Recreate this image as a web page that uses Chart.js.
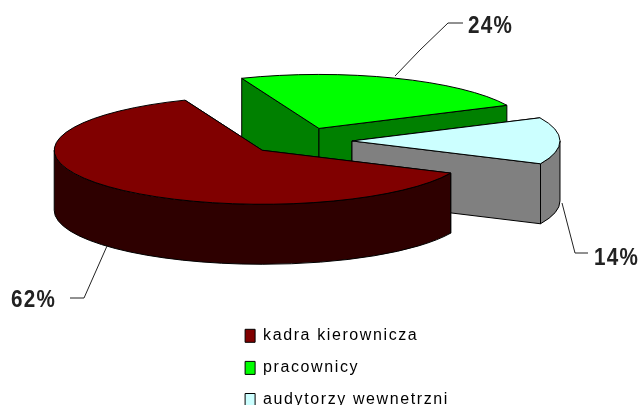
<!DOCTYPE html>
<html><head><meta charset="utf-8">
<script src="https://cdn.jsdelivr.net/npm/chart.js@4"></script>
<style>html,body{margin:0;padding:0;background:#fff;overflow:hidden}canvas{display:block}</style>
</head><body><canvas id="c" width="639" height="405"></canvas>
<script>
const categories = ['kadra kierownicza', 'pracownicy', 'audytorzy wewnetrzni'];
const shares = [62, 24, 14];
const topColors = ['#800000', '#00ff00', '#ccffff'];
const sideColors = ['#2e0000', '#008000', '#808080'];
const paintOrder = [1, 2, 0];
const leaders = [
  [[107,246],[84,298],[70,298]],
  [[395,76],[420,50],[448,23],[463,23]],
  [[562,203],[575,253],[588,253]]
];
const labelSpots = [[11,307],[468,33],[594,265]];

const RADIUS = 150, EXPLODE = 37.5;
const VIEW = {x: 300, y: 141, sx: 208 / RADIUS, sy: 54 / RADIUS, depth: 60};

const pie3d = {
  id: 'pie3d',
  afterLayout(chart) {
    const l = chart.legend, h = l.height;
    l.left = 229; l.right = 229 + 300; l.top = 311.7; l.bottom = 311.7 + h;
  },
  beforeDraw(chart) { chart.ctx.letterSpacing = '1.6px'; },
  beforeDatasetDraw(chart, args) {
    const ctx = chart.ctx, arcs = args.meta.data;
    const rx = RADIUS * VIEW.sx, ry = RADIUS * VIEW.sy, D = VIEW.depth;
    ctx.save();
    ctx.lineWidth = 1; ctx.strokeStyle = '#000'; ctx.lineJoin = 'miter';
    for (const i of paintOrder) {
      const arc = arcs[i], a0 = arc.startAngle, a1 = arc.endAngle;
      const mid = (a0 + a1) / 2;
      const cx = VIEW.x + Math.cos(mid) * EXPLODE * VIEW.sx;
      const cy = VIEW.y + Math.sin(mid) * EXPLODE * VIEW.sy;
      const pt = a => [cx + rx * Math.cos(a), cy + ry * Math.sin(a)];
      ctx.fillStyle = sideColors[i];
      for (const a of [a0, a1]) {
        const p = pt(a);
        ctx.beginPath();
        ctx.moveTo(cx, cy); ctx.lineTo(p[0], p[1]);
        ctx.lineTo(p[0], p[1] + D); ctx.lineTo(cx, cy + D);
        ctx.closePath(); ctx.fill(); ctx.stroke();
      }
      for (const k of [0, 2 * Math.PI]) {
        const s = Math.max(a0, k), e = Math.min(a1, k + Math.PI);
        if (e <= s) continue;
        ctx.beginPath();
        ctx.ellipse(cx, cy, rx, ry, 0, s, e);
        ctx.ellipse(cx, cy + D, rx, ry, 0, e, s, true);
        ctx.closePath(); ctx.fill(); ctx.stroke();
      }
      ctx.save();
      ctx.translate(cx, cy);
      ctx.scale(VIEW.sx, VIEW.sy);
      ctx.translate(-arc.x, -arc.y);
      arc.draw(ctx);
      ctx.restore();
      ctx.beginPath();
      ctx.moveTo(cx, cy);
      ctx.ellipse(cx, cy, rx, ry, 0, a0, a1);
      ctx.closePath(); ctx.stroke();
    }
    ctx.restore();
    return false;
  },
  afterDraw(chart) {
    const ctx = chart.ctx;
    ctx.save();
    ctx.strokeStyle = '#222'; ctx.lineWidth = 1;
    leaders.forEach(line => {
      ctx.beginPath();
      line.forEach((p, i) => i ? ctx.lineTo(p[0], p[1]) : ctx.moveTo(p[0], p[1]));
      ctx.stroke();
    });
    ctx.fillStyle = '#222';
    ctx.font = 'bold 24px "Liberation Sans"';
    ctx.letterSpacing = '1.5px';
    ctx.textAlign = 'left'; ctx.textBaseline = 'alphabetic';
    shares.forEach((v, i) => {
      ctx.save();
      ctx.translate(labelSpots[i][0], labelSpots[i][1]);
      ctx.scale(0.86, 1);
      ctx.fillText(v + '%', 0, 0);
      ctx.restore();
    });
    ctx.restore();
  }
};

new Chart(document.getElementById('c'), {
  type: 'pie',
  data: {
    labels: categories,
    datasets: [{data: shares, backgroundColor: topColors, borderWidth: 0}]
  },
  options: {
    responsive: false,
    animation: false,
    rotation: 115,
    radius: RADIUS,
    layout: {padding: 0},
    plugins: {
      tooltip: {enabled: false},
      legend: {
        position: 'right',
        align: 'start',
        labels: {
          boxWidth: 10, boxHeight: 13, padding: 16.1,
          color: '#111',
          font: {family: '"Liberation Sans"', size: 16},
          generateLabels: () => categories.map((t, i) => ({
            text: t, fillStyle: topColors[i], strokeStyle: '#000', lineWidth: 1, index: i
          }))
        }
      }
    }
  },
  plugins: [pie3d]
});
</script></body></html>
